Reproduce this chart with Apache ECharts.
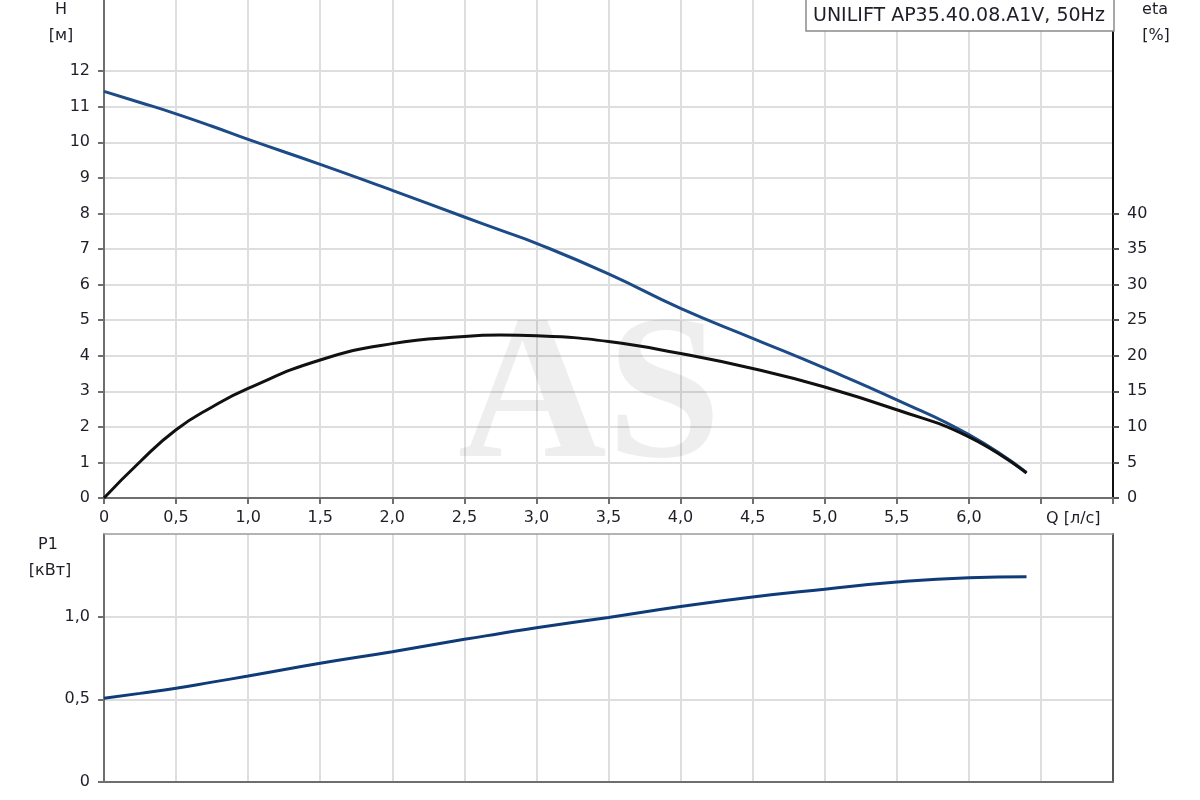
<!DOCTYPE html>
<html>
<head>
<meta charset="utf-8">
<script src="https://cdn.jsdelivr.net/npm/echarts@6/dist/echarts.min.js"></script>
<style>html,body{margin:0;padding:0;background:#fff}#c{width:1200px;height:800px}</style>
</head>
<body>
<div id="c"></div>
<script>
// ---- data ----
const qValues   = [0, 0.25, 0.5, 0.75, 1.0, 1.5, 2.0, 2.5, 2.75, 3.0, 3.5, 4.0, 4.5, 5.0, 5.5, 6.0, 6.4];
const headH     = [11.43, 11.12, 10.80, 10.45, 10.08, 9.38, 8.65, 7.90, 7.53, 7.16, 6.30, 5.33, 4.49, 3.65, 2.76, 1.78, 0.72];
const effEta    = [0, 5.1, 9.6, 12.8, 15.4, 19.4, 21.7, 22.7, 22.9, 22.8, 22.0, 20.3, 18.2, 15.6, 12.4, 8.6, 3.5];
const powerP1   = [0.506, 0.536, 0.567, 0.604, 0.641, 0.718, 0.788, 0.863, 0.898, 0.933, 0.995, 1.061, 1.119, 1.166, 1.21, 1.236, 1.242];
const qTickLabels   = [0, 0.5, 1.0, 1.5, 2.0, 2.5, 3.0, 3.5, 4.0, 4.5, 5.0, 5.5, 6.0];
const hTickLabels   = [0, 1, 2, 3, 4, 5, 6, 7, 8, 9, 10, 11, 12];
const etaTickLabels = [0, 5, 10, 15, 20, 25, 30, 35, 40];
const p1TickLabels  = [0, 0.5, 1.0];
const titleText = 'UNILIFT AP35.40.08.A1V, 50Hz';

const FONT = '"DejaVu Sans", Verdana, sans-serif';
const TXT = '#1e1e28';
const GRIDC = '#dedede';
const AXC = '#6e6e6e';

function fmtComma(v) {
  if (v === 0) return '0';
  return v.toFixed(1).replace('.', ',');
}
function pairs(ys) { return qValues.map((q, i) => [q, ys[i]]); }

const chart = echarts.init(document.getElementById('c'), null, {renderer: 'canvas'});

const labelStyle = {color: TXT, fontSize: 16, fontFamily: FONT};

const option = {
  animation: false,
  backgroundColor: '#fff',
  grid: [
    {left: 104, top: 0, width: 1009, height: 498, containLabel: false},
    {left: 104, top: 534, width: 1009, height: 248, containLabel: false}
  ],
  xAxis: [
    {
      type: 'value', gridIndex: 0, min: 0, max: 7, interval: 0.5,
      axisLine: {show: true, onZero: false, lineStyle: {color: AXC, width: 2}},
      axisTick: {show: true, length: 6, lineStyle: {color: AXC, width: 2}},
      axisLabel: Object.assign({}, labelStyle, {
        margin: 12,
        customValues: qTickLabels,
        formatter: v => fmtComma(v)
      }),
      splitLine: {show: true, lineStyle: {color: GRIDC, width: 2}}
    },
    {
      type: 'value', gridIndex: 1, min: 0, max: 7, interval: 0.5,
      axisLine: {show: true, onZero: false, lineStyle: {color: AXC, width: 2}},
      axisTick: {show: false},
      axisLabel: {show: false},
      splitLine: {show: true, lineStyle: {color: GRIDC, width: 2}}
    },
    {
      type: 'value', gridIndex: 1, min: 0, max: 7, position: 'top',
      axisLine: {show: true, onZero: false, lineStyle: {color: '#9a9a9a', width: 1.5}},
      axisTick: {show: false}, axisLabel: {show: false}, splitLine: {show: false}
    }
  ],
  yAxis: [
    {
      type: 'value', gridIndex: 0, min: 0, max: 14, interval: 1,
      axisLine: {show: true, onZero: false, lineStyle: {color: AXC, width: 2}},
      axisTick: {show: true, length: 6, customValues: hTickLabels, lineStyle: {color: AXC, width: 2}},
      axisLabel: Object.assign({}, labelStyle, {margin: 14, customValues: hTickLabels}),
      splitLine: {show: true, lineStyle: {color: GRIDC, width: 2}}
    },
    {
      type: 'value', gridIndex: 0, min: 0, max: 70, interval: 5, position: 'right',
      axisLine: {show: true, onZero: false, lineStyle: {color: '#111', width: 2}},
      axisTick: {show: true, length: 6, customValues: etaTickLabels, lineStyle: {color: '#555', width: 2}},
      axisLabel: Object.assign({}, labelStyle, {margin: 14, customValues: etaTickLabels}),
      splitLine: {show: false}
    },
    {
      type: 'value', gridIndex: 1, min: 0, max: 1.5, interval: 0.5,
      axisLine: {show: true, onZero: false, lineStyle: {color: AXC, width: 2}},
      axisTick: {show: true, length: 6, customValues: p1TickLabels, lineStyle: {color: AXC, width: 2}},
      axisLabel: Object.assign({}, labelStyle, {margin: 14, customValues: p1TickLabels, formatter: v => fmtComma(v)}),
      splitLine: {show: true, lineStyle: {color: GRIDC, width: 2}}
    },
    {
      type: 'value', gridIndex: 1, min: 0, max: 1.5, position: 'right',
      axisLine: {show: true, onZero: false, lineStyle: {color: '#555', width: 2}},
      axisTick: {show: false}, axisLabel: {show: false}, splitLine: {show: false}
    }
  ],
  series: [
    {
      name: 'H', type: 'line', xAxisIndex: 0, yAxisIndex: 0,
      data: pairs(headH), smooth: 0.5, showSymbol: false, z: 3,
      lineStyle: {color: '#1d4b87', width: 3}
    },
    {
      name: 'eta', type: 'line', xAxisIndex: 0, yAxisIndex: 1,
      data: pairs(effEta), smooth: 0.5, showSymbol: false, z: 4,
      lineStyle: {color: '#111111', width: 3}
    },
    {
      name: 'P1', type: 'line', xAxisIndex: 1, yAxisIndex: 2,
      data: pairs(powerP1), smooth: 0.5, showSymbol: false, z: 3,
      lineStyle: {color: '#0f3b78', width: 3}
    }
  ],
  graphic: [
    {
      type: 'text', left: 458, top: 300, z: 1, silent: true,
      style: {text: 'AS', font: 'bold 206px "Liberation Serif", "Times New Roman", serif', fill: 'rgba(0,0,0,0.065)'}
    },
    {
      type: 'rect', shape: {x: 806, y: -1, width: 308, height: 32}, z: 10,
      style: {fill: '#fff', stroke: '#8a8a8a', lineWidth: 1.5}
    },
    {
      type: 'text', x: 813, y: 16, z: 11,
      style: {text: titleText, font: '19px ' + FONT, fill: TXT, verticalAlign: 'middle'}
    },
    {type: 'text', x: 61, y: 10, z: 11, style: {text: 'H', font: '16px ' + FONT, fill: TXT, align: 'center', verticalAlign: 'middle'}},
    {type: 'text', x: 61, y: 36, z: 11, style: {text: '[м]', font: '16px ' + FONT, fill: TXT, align: 'center', verticalAlign: 'middle'}},
    {type: 'text', x: 1155, y: 10, z: 11, style: {text: 'eta', font: '16px ' + FONT, fill: TXT, align: 'center', verticalAlign: 'middle'}},
    {type: 'text', x: 1156, y: 36, z: 11, style: {text: '[%]', font: '16px ' + FONT, fill: TXT, align: 'center', verticalAlign: 'middle'}},
    {type: 'text', x: 48, y: 545, z: 11, style: {text: 'P1', font: '16px ' + FONT, fill: TXT, align: 'center', verticalAlign: 'middle'}},
    {type: 'text', x: 50, y: 571, z: 11, style: {text: '[кВт]', font: '16px ' + FONT, fill: TXT, align: 'center', verticalAlign: 'middle'}},
    {type: 'text', x: 1046, y: 519, z: 11, style: {text: 'Q [л/с]', font: '16px ' + FONT, fill: TXT, align: 'left', verticalAlign: 'middle'}}
  ]
};
chart.setOption(option);
</script>
</body>
</html>
